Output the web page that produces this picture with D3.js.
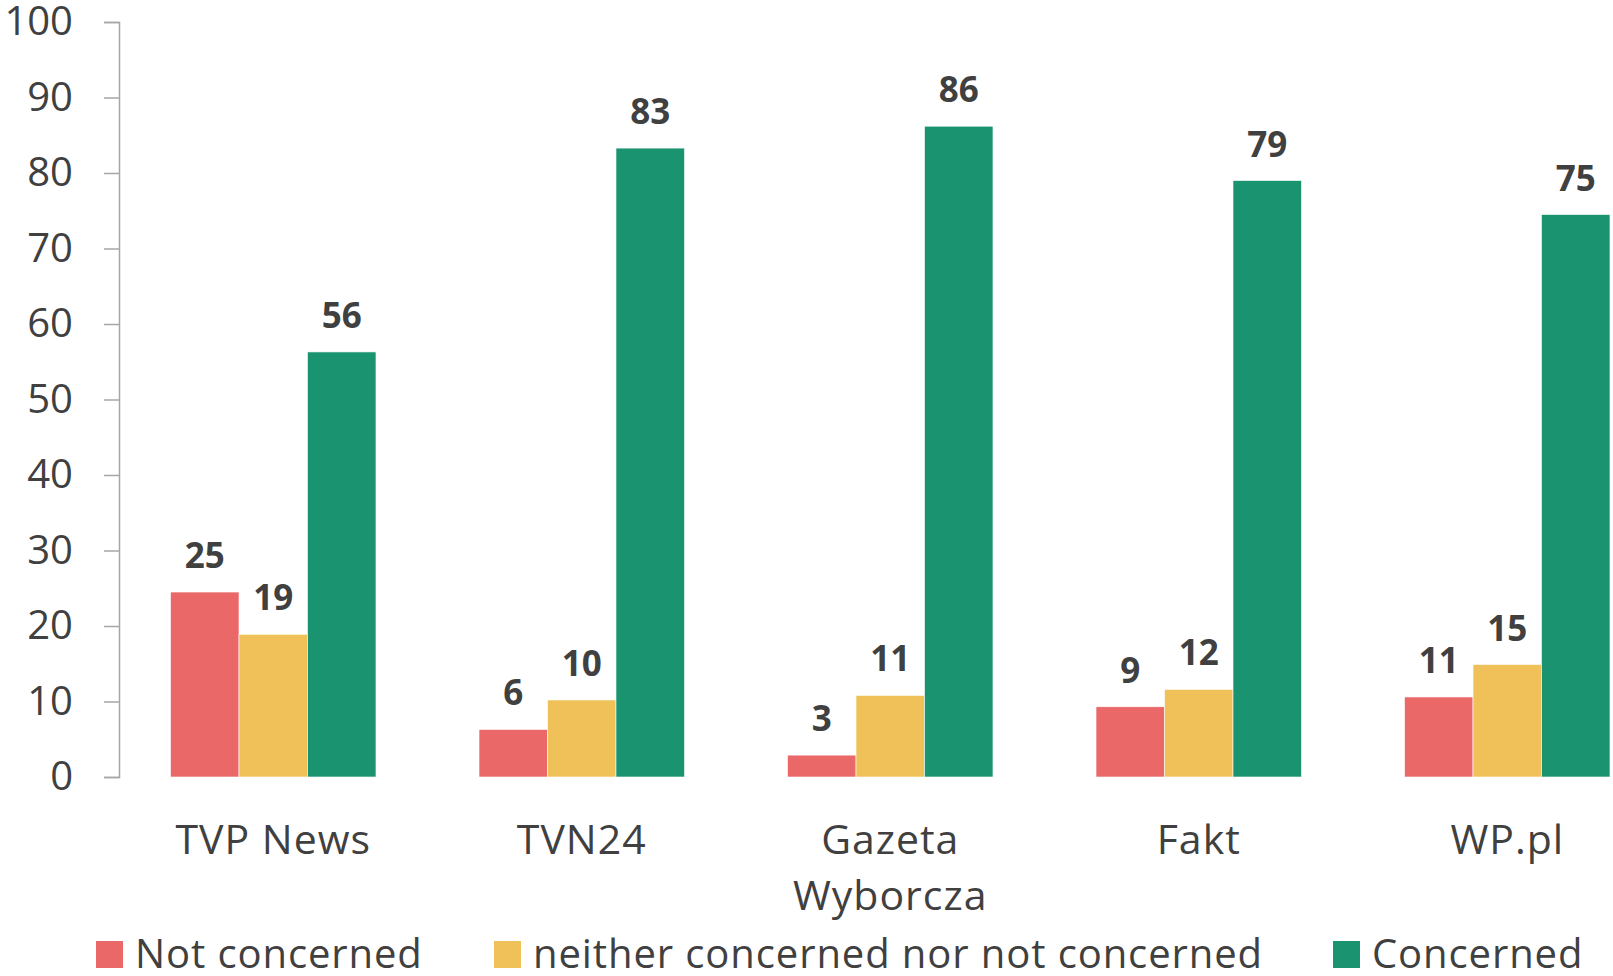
<!DOCTYPE html>
<html>
<head>
<meta charset="utf-8">
<script src="https://cdn.jsdelivr.net/npm/d3@7"></script>
<style>
  body { margin: 0; background: #fff; }
  svg { display: block; font-family: "Open Sans", "Noto Sans", sans-serif; }
</style>
</head>
<body>
<svg id="chart" width="1613" height="976"></svg>
<script>
const outlets = ["TVP News", "TVN24", "Gazeta Wyborcza", "Fakt", "WP.pl"];
const seriesNames = ["Not concerned", "neither concerned nor not concerned", "Concerned"];
const notConcerned = [24.5, 6.3, 2.9, 9.3, 10.6];
const neither = [18.9, 10.2, 10.8, 11.6, 14.9];
const concerned = [56.3, 83.3, 86.2, 79.0, 74.5];
const yTicks = [0, 10, 20, 30, 40, 50, 60, 70, 80, 90, 100];
const colors = ["#EA6868", "#EFC158", "#1A9470"];

const seriesValues = [notConcerned, neither, concerned];
const rows = outlets.map((o, i) => ({
  outlet: o,
  values: seriesNames.map((s, j) => ({ series: s, value: seriesValues[j][i], color: colors[j] }))
}));

const svg = d3.select("#chart");
const textColor = "#404040";

const y = d3.scaleLinear().domain([0, 100]).range([777, 22]);
const x = d3.scaleBand().domain(outlets).range([119, 1661.5])
  .paddingInner(0.334).paddingOuter(0.167);
const xs = d3.scaleBand().domain(seriesNames).range([0, x.bandwidth()]);

// y axis
const yAxis = d3.axisLeft(y).tickValues(yTicks).tickSize(15).tickPadding(31);
const gy = svg.append("g").attr("transform", "translate(119,0)").call(yAxis);
gy.select(".domain").attr("stroke", "#a6a6a6").attr("stroke-width", 1.5);
gy.selectAll(".tick line").attr("stroke", "#a6a6a6").attr("stroke-width", 1.5);
gy.selectAll(".tick text")
  .attr("fill", textColor)
  .style("font-size", "40px")
  .style("font-family", "'Open Sans', sans-serif");

// bars
const groups = svg.append("g").selectAll("g")
  .data(rows)
  .join("g")
  .attr("transform", d => `translate(${x(d.outlet)},0)`);

groups.selectAll("rect")
  .data(d => d.values)
  .join("rect")
  .attr("x", d => xs(d.series))
  .attr("y", d => y(d.value))
  .attr("width", xs.bandwidth())
  .attr("height", d => y(0) - y(d.value))
  .attr("fill", d => d.color)
  .attr("stroke", "#fff")
  .attr("stroke-width", 0.6);

// value labels
groups.selectAll("text.val")
  .data(d => d.values)
  .join("text")
  .attr("class", "val")
  .attr("x", d => xs(d.series) + xs.bandwidth() / 2)
  .attr("y", d => y(d.value) - 24)
  .attr("text-anchor", "middle")
  .attr("fill", textColor)
  .style("font-size", "35px")
  .style("font-weight", "bold")
  .text(d => Math.round(d.value));

// category labels
const catLabels = svg.append("g").selectAll("text")
  .data(outlets)
  .join("text")
  .attr("x", d => x(d) + x.bandwidth() / 2)
  .attr("y", 854)
  .attr("text-anchor", "middle")
  .attr("fill", textColor)
  .style("font-size", "41px")
  .style("letter-spacing", "1px");

catLabels.each(function (d) {
  const words = d === "Gazeta Wyborcza" ? d.split(" ") : [d];
  const t = d3.select(this);
  words.forEach((w, i) => {
    t.append("tspan")
      .attr("x", x(d) + x.bandwidth() / 2)
      .attr("dy", i === 0 ? 0 : 56)
      .text(w);
  });
});

// legend
const legendX = [96, 494, 1333];
const legend = svg.append("g").selectAll("g")
  .data(seriesNames)
  .join("g")
  .attr("transform", (d, i) => `translate(${legendX[i]},941)`);

legend.append("rect")
  .attr("width", 27)
  .attr("height", 27)
  .attr("fill", (d, i) => colors[i]);

legend.append("text")
  .attr("x", 39)
  .attr("y", 27)
  .attr("fill", textColor)
  .style("font-size", "40px")
  .style("letter-spacing", "0.9px")
  .text(d => d);
</script>
</body>
</html>
